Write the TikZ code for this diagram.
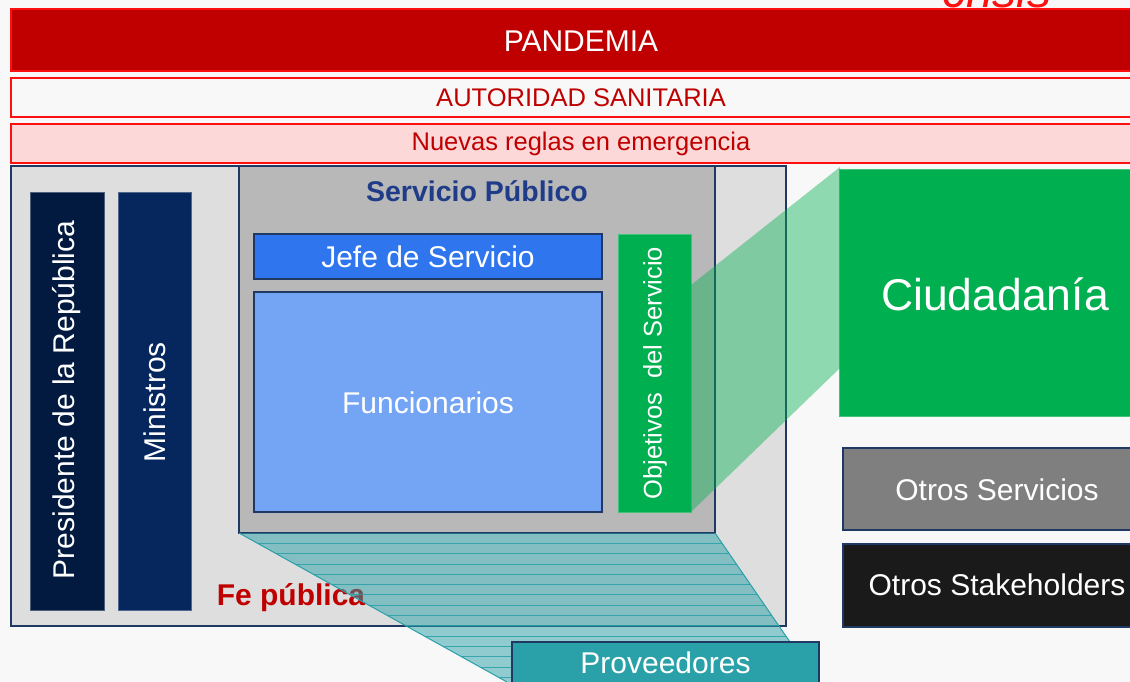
\documentclass[tikz,border=0pt]{standalone}
\usepackage{fontspec}
\setmainfont{Liberation Sans}
\usetikzlibrary{calc}
\definecolor{bg}{HTML}{F8F8F8}
\definecolor{darkred}{HTML}{C00000}
\definecolor{brightred}{HTML}{FF1010}
\definecolor{pinkfill}{HTML}{FCD8D8}
\definecolor{panelgray}{HTML}{DEDEDE}
\definecolor{midgray}{HTML}{B8B8B8}
\definecolor{navy}{HTML}{1F3864}
\definecolor{navytext}{HTML}{1F3C88}
\definecolor{presblue}{HTML}{021A40}
\definecolor{minblue}{HTML}{05275E}
\definecolor{jefeblue}{HTML}{2E75EE}
\definecolor{funcblue}{HTML}{74A4F4}
\definecolor{sgreen}{HTML}{00B050}
\definecolor{lgreen}{HTML}{40C47A}
\definecolor{otrogray}{HTML}{7F7F7F}
\definecolor{nearblack}{HTML}{1A1A1A}
\definecolor{teal}{HTML}{2AA0A8}
\newcommand\fsz[1]{\fontsize{#1}{#1}\selectfont}
\begin{document}
\begin{tikzpicture}[x=1pt,y=-1pt,
  box/.style={draw, line width=1.2pt, rectangle, inner sep=0pt, outer sep=0pt},
  wtext/.style={text=white, inner sep=0pt},
]
\clip (0,0) rectangle (1130,682);
\fill[bg] (0,0) rectangle (1130,682);

% crisis (clipped at top)
\node[anchor=base, text=brightred, inner sep=0pt, font=\fsz{48}\itshape] (crisis) at (997,8) {crisis};

% top bars
\node[box, draw=brightred, fill=darkred, minimum width=1140pt, minimum height=62pt] (pand) at (581,40) {};
\node[wtext, font=\fsz{30}] (pandt) at (581,41) {PANDEMIA};
\node[box, draw=brightred, fill=bg, minimum width=1140pt, minimum height=39pt] (aut) at (581,97.5) {};
\node[text=darkred, inner sep=0pt, font=\fsz{25.5}] (autt) at (581,98) {AUTORIDAD SANITARIA};
\node[box, draw=brightred, fill=pinkfill, minimum width=1140pt, minimum height=39pt] (nue) at (581,143.5) {};
\node[text=darkred, inner sep=0pt, font=\fsz{25.5}] (nuet) at (581,144) {Nuevas reglas en emergencia};

% gray panel
\node[box, draw=navy, fill=panelgray, minimum width=775pt, minimum height=460pt] (panel) at (398.5,396) {};

% Presidente / Ministros
\node[box, draw=presblue!70!white, line width=0.6pt, fill=presblue, minimum width=74pt, minimum height=418pt] (pres) at (67,401) {};
\node[wtext, rotate=90, font=\fsz{30}] (prest) at (67,400) {Presidente de la República};
\node[box, draw=minblue!70!white, line width=0.6pt, fill=minblue, minimum width=73pt, minimum height=418pt] (min) at (154.5,401) {};
\node[wtext, rotate=90, font=\fsz{30}] (mint) at (155,402) {Ministros};

% Fe publica
\node[anchor=base, text=darkred, inner sep=0pt, font=\fsz{30}\bfseries] (fe) at (291,605) {Fe pública};

% Servicio Publico
\node[box, draw=navy, fill=midgray, minimum width=476pt, minimum height=367pt] (sp) at (477,349.5) {};
\node[text=navytext, inner sep=0pt, font=\fsz{28.5}\bfseries] (spt) at (477,191) {Servicio Público};
\node[box, draw=navy, fill=jefeblue, minimum width=348pt, minimum height=45pt] (jefe) at (428,256.5) {};
\node[wtext, font=\fsz{30}] (jefet) at (428,257) {Jefe de Servicio};
\node[box, draw=navy, fill=funcblue, minimum width=348pt, minimum height=220pt] (func) at (428,402) {};
\node[wtext, font=\fsz{30}] (funct) at (428,403) {Funcionarios};
\node[box, draw=lgreen, line width=0.8pt, fill=sgreen, minimum width=73pt, minimum height=278pt] (obj) at (654.5,373) {};
\node[wtext, rotate=90, font=\fsz{25.5}] (objt) at (655,373) {Objetivos\ \ del Servicio};

% right column
\node[box, draw=lgreen, line width=0.8pt, fill=sgreen, minimum width=312pt, minimum height=247pt] (ciud) at (995,292.5) {};
\node[wtext, font=\fsz{44.5}] (ciudt) at (995,294) {Ciudadanía};
\node[box, draw=navy, fill=otrogray, minimum width=308pt, minimum height=82pt] (otros) at (997,489) {};
\node[wtext, font=\fsz{30}] (otrost) at (997,490) {Otros Servicios};
\node[box, draw=navy, fill=nearblack, minimum width=308pt, minimum height=83pt] (stake) at (997,585.5) {};
\node[wtext, font=\fsz{30}] (staket) at (997,585) {Otros Stakeholders};

% green trapezoid
\coordinate (gtl) at (691,285);
\coordinate (gbr) at (840,368);
\fill[sgreen, opacity=0.42] (gtl) -- (840,167) -- (gbr) -- (obj.south east) -- cycle;

% teal trapezoid
\coordinate (tbl) at (507,682);
\coordinate (tbr) at (817.5,682);
\begin{scope}
  \clip (sp.south west) -- (sp.south east) -- (tbr) -- (tbl) -- cycle;
  \fill[teal, opacity=0.5] (200,520) rectangle (850,690);
  \foreach \i in {1,...,15} {
    \draw[teal, line width=0.8pt, opacity=0.85] (200,{533+\i*10.3}) -- (850,{533+\i*10.3});
  }
\end{scope}
\draw[teal, line width=1pt] (sp.south west) -- (tbl);
\draw[teal, line width=1pt] (sp.south east) -- (tbr);

% Proveedores
\node[box, draw=navy, fill=teal, minimum width=307pt, minimum height=42pt] (prov) at (665.5,663) {};
\node[wtext, font=\fsz{30}] (provt) at (665.5,663) {Proveedores};
\end{tikzpicture}
\end{document}
